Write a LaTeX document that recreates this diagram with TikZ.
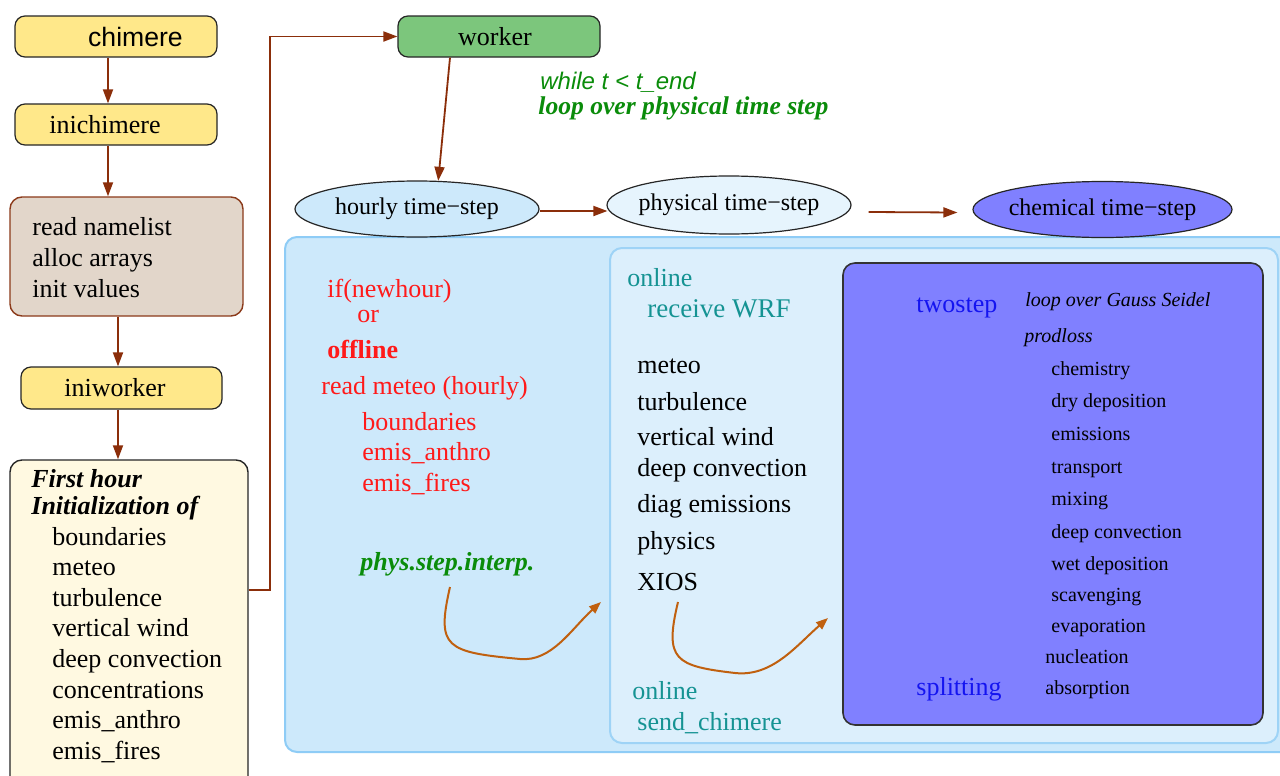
\documentclass[tikz,border=0pt]{standalone}
\usepackage{fontspec}
\setmainfont{Liberation Serif}
\setsansfont{Liberation Sans}
\usetikzlibrary{shapes.geometric,arrows.meta,calc}
\definecolor{yel}{HTML}{FFE88A}
\definecolor{brn}{HTML}{E2D6CA}
\definecolor{brnline}{HTML}{8B3A1A}
\definecolor{cream}{HTML}{FFF9E1}
\definecolor{wgreen}{HTML}{7CC67C}
\definecolor{arrc}{HTML}{8B2E0A}
\definecolor{pblue}{HTML}{CDE9FB}
\definecolor{pblueline}{HTML}{8ECCF6}
\definecolor{iblue}{HTML}{DCEFFC}
\definecolor{iblueline}{HTML}{9ED3F6}
\definecolor{physc}{HTML}{E6F4FD}
\definecolor{purp}{HTML}{8080FF}
\definecolor{tealc}{HTML}{159393}
\definecolor{redc}{HTML}{FF1A1A}
\definecolor{greenc}{HTML}{0A8C0A}
\definecolor{orangec}{HTML}{C0600F}
\definecolor{bluec}{HTML}{1414F0}
\begin{document}
\begin{tikzpicture}[x=0.5pt,y=-0.5pt,
 ybox/.style={draw=black!85, fill=yel, rounded corners=5pt, line width=0.6pt, inner sep=0, minimum width=101pt, minimum height=20.5pt, font=\fontsize{13}{15}\selectfont},
 arr/.style={draw=arrc, line width=0.9pt, -{Triangle[length=7pt,width=5pt]}},
 carr/.style={draw=orangec, line width=1pt, -{Triangle[length=6pt,width=4.5pt]}},
 el/.style={ellipse, draw=black!85, line width=0.6pt, inner xsep=-8pt, inner ysep=0pt, minimum width=122pt, minimum height=28pt, font=\fontsize{12}{14}\selectfont},
 txt/.style={anchor=base west, inner sep=0, yshift=-1pt, font=\fontsize{13}{15}\selectfont},
 sml/.style={anchor=base west, inner sep=0, font=\fontsize{10}{12}\selectfont},
 panel/.style={rounded corners=6pt, line width=1pt, inner sep=0}]
\useasboundingbox (0,0) rectangle (1280,776);
\fill[white] (0,0) rectangle (1280,776);

% left column
\node[ybox, font=\sffamily\fontsize{13.3}{15}\selectfont] (chimere) at (116,36.5) {\hspace*{19.5pt}chimere};
\node[ybox] (inichimere) at (116,124.5) {inichimere\hspace*{11pt}};
\node[draw=brnline, fill=brn, rounded corners=6pt, line width=0.7pt, minimum width=116.5pt, minimum height=59.5pt, inner sep=0] (brown) at (126.5,256.5) {};
\foreach \w [count=\i] in {read namelist, alloc arrays, init values}
  \node[txt] (b\i) at ({32},{233+(\i-1)*31}) {\w};
\node[ybox, minimum width=100.5pt, minimum height=21pt] (iniworker) at (121.5,388) {iniworker\hspace*{6.5pt}};
\node[draw=black!85, fill=cream, rounded corners=6pt, line width=0.7pt, minimum width=119pt, minimum height=165pt, inner sep=0] (first) at (129,625) {};
\node[txt, font=\bfseries\itshape\fontsize{13}{15}\selectfont] (f1) at (31,485) {First hour};
\node[txt, font=\bfseries\itshape\fontsize{13}{15}\selectfont] (f2) at (31,512) {Initialization of};
\foreach \w [count=\i] in {boundaries, meteo, turbulence, vertical wind, deep convection, concentrations, emis\_anthro, emis\_fires}
  \node[txt] (fl\i) at ({52},{543+(\i-1)*30.6}) {\w};

\draw[arr] ([xshift=-4pt]chimere.south) -- ([xshift=-4pt]inichimere.north);
\draw[arr] ([xshift=-4pt]inichimere.south) -- ([xshift=-4pt]inichimere.south |- brown.north);
\draw[arr] ([xshift=-4.25pt]brown.south) -- ([xshift=-4.25pt]brown.south |- iniworker.north);
\draw[arr] ([xshift=-1.75pt]iniworker.south) -- ([xshift=-1.75pt]iniworker.south |- first.north);

% worker
\node[ybox, fill=wgreen] (worker) at (499,36.5) {worker\hspace*{4pt}};
\coordinate (c1) at (270,590);
\draw[arr] (first.east |- c1) -- (c1) |- (worker.west);
\node[anchor=base west, inner sep=0, text=greenc, font=\sffamily\itshape\fontsize{12}{14}\selectfont] (while) at (540,89) {while t < t\_end};
\node[anchor=base west, inner sep=0, text=greenc, font=\bfseries\itshape\fontsize{12.8}{14}\selectfont] (loop) at (538,114) {loop over physical time step};

% panels
\node[panel, draw=pblueline, fill=pblue, minimum width=507.5pt, minimum height=257.5pt] (outer) at (792.5,494.5) {};
\node[panel, draw=iblueline, fill=iblue, minimum width=334pt, minimum height=247.5pt] (inner) at (944,495.5) {};
\node[panel, draw=black!80, fill=purp, line width=0.8pt, minimum width=210pt, minimum height=231pt] (chem) at (1053,494) {};

% ellipses
\node[el, fill=pblue] (hourly) at (417,209) {hourly time−step};
\node[el, fill=physc, minimum height=29pt] (physical) at (729,205) {physical time−step};
\node[el, fill=purp, minimum width=129.5pt] (chemical) at (1102.5,209.5) {chemical time−step};
\draw[arr] ($(worker.south)+(-49,0)$) -- (hourly.53);
\draw[arr] ($(hourly.east)+(0,2)$) -- ($(hourly.east -| physical.west)+(1,2)$);
\draw[arr] ($(physical.east)+(17,7)$) -- ($(chemical.west)+(-15,3)$);

% red block
\node[txt, text=redc] (r1) at (327,295) {if(newhour)};
\node[txt, text=redc] (r2) at (357,320) {or};
\node[txt, text=redc, font=\bfseries\fontsize{13}{15}\selectfont] (r3) at (327,356) {offline};
\node[txt, text=redc] (r4) at (321,392) {read meteo (hourly)};
\foreach \w [count=\i] in {boundaries, emis\_anthro, emis\_fires}
  \node[txt, text=redc] (rr\i) at ({362},{428+(\i-1)*30.5}) {\w};
\node[txt, text=greenc, font=\bfseries\itshape\fontsize{13}{15}\selectfont] (interp) at (360,568) {phys.step.interp.};
\coordinate (s1) at (450,587);
\coordinate (e1) at (601,602);
\draw[carr] (s1) .. controls (436,648) and (446,652) .. (520,659) .. controls (552,662) and (572,628) .. (e1);

% middle block
\node[txt, text=tealc] (on1) at (627,284) {online};
\node[txt, text=tealc, font=\fontsize{13.5}{15}\selectfont] (rwrf) at (647,315) {receive WRF};
\foreach \w/\y [count=\i] in {meteo/371, turbulence/408, vertical wind/443, deep convection/474, diag emissions/510, physics/547, XIOS/588}
  \node[txt] (m\i) at (637,\y) {\w};
\node[txt, text=tealc] (on2) at (632,697) {online};
\node[txt, text=tealc] (sendc) at (637,728) {send\_chimere};
\coordinate (s2) at (678,602);
\coordinate (e2) at (828,618);
\draw[carr] (s2) .. controls (664,660) and (675,666) .. (735,673) .. controls (772,677) and (796,646) .. (e2);

% chemistry block
\node[txt, text=bluec] (twostep) at (916,310) {twostep};
\node[txt, text=bluec] (splitting) at (916,693) {splitting};
\node[sml, font=\itshape\fontsize{10}{12}\selectfont] (gs) at (1025,306) {loop over Gauss Seidel};
\node[sml, font=\itshape\fontsize{10}{12}\selectfont] (prodloss) at (1024,342) {prodloss};
\foreach \w/\y [count=\i] in {chemistry/375, dry deposition/407, emissions/440, transport/473, mixing/505, deep convection/538, wet deposition/570, scavenging/601, evaporation/632}
  \node[sml] (c\i) at (1051,\y) {\w};
\node[sml] (nucl) at (1045,663) {nucleation};
\node[sml] (absorp) at (1045,694) {absorption};
\end{tikzpicture}
\end{document}
